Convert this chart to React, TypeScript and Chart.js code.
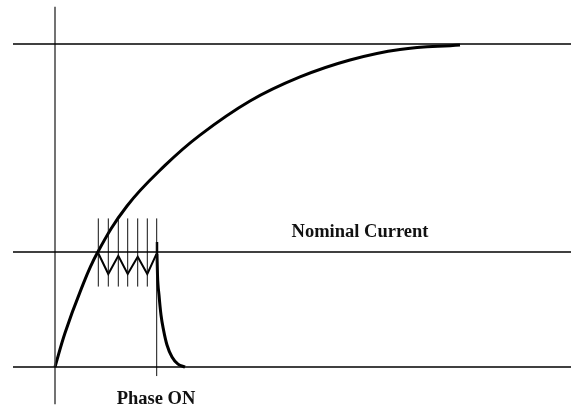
import React, { useEffect, useRef } from "react";
import { Chart, registerables } from "chart.js";

Chart.register(...registerables);

// Time (x) in arbitrary units, current (y) in % of final current
const curveT = [0, 1.0, 2.5, 4.2, 7.2, 11.0, 14.5, 19.5, 24.5, 29.5, 34.5, 40.5];
const curveI = [0, 10.53, 23.2, 35.14, 49.85, 62.4, 71.8, 82.35, 89.8, 95.05, 98.3, 99.7];

const chopT = [4.33, 5.33, 6.33, 7.27, 8.27, 9.23, 10.15];
const chopI = [35.2, 28.8, 34.4, 28.8, 34.1, 28.8, 35.0];

const stubT = [10.2, 10.2];
const stubI = [38.7, 35.0];

const decayT = [10.2, 10.25, 10.4, 10.6, 10.85, 11.2, 11.7, 12.3, 13.0];
const decayI = [35.0, 28.5, 22.3, 16.1, 11.5, 6.8, 3.1, 0.9, 0];

const gateT = [4.33, 5.33, 6.33, 7.27, 8.27, 9.23, 10.17];
const gateLow = [24.9, 24.9, 24.9, 24.9, 24.9, 24.9, -2.8];
const gateHigh = [46.0, 46.0, 46.0, 46.0, 46.0, 46.0, 46.0];

const levels = [100, 35.6, 0];
const levelStartT = -4.2;
const levelEndT = 51.6;

const axisT = 0;
const axisLow = -11.5;
const axisHigh = 111.5;

const labelTexts = ["Nominal Current", "Phase ON"];
const labelT = [30.5, 10.1];
const labelI = [41.8, -9.9];

const X_MIN = -5.5;
const X_MAX = 51.6;
const Y_MIN = -13.93;
const Y_MAX = 113.62;

const zip = (xs: number[], ys: number[]) => xs.map((x, i) => ({ x, y: ys[i] }));

export default function App() {
  const ref = useRef<HTMLCanvasElement | null>(null);

  useEffect(() => {
    if (!ref.current) return;
    const base = { pointRadius: 0, fill: false, tension: 0 };
    const datasets: any[] = [];

    levels.forEach((lv) => {
      datasets.push({
        ...base,
        data: [{ x: levelStartT, y: lv }, { x: levelEndT, y: lv }],
        borderColor: "#000",
        borderWidth: 1.5,
      });
    });
    datasets.push({
      ...base,
      data: [{ x: axisT, y: axisLow }, { x: axisT, y: axisHigh }],
      borderColor: "#444",
      borderWidth: 1.5,
    });
    gateT.forEach((t, i) => {
      datasets.push({
        ...base,
        data: [{ x: t, y: gateLow[i] }, { x: t, y: gateHigh[i] }],
        borderColor: "#111",
        borderWidth: 1,
      });
    });
    datasets.push({
      ...base,
      data: zip(curveT, curveI),
      borderColor: "#000",
      borderWidth: 3,
      tension: 0.4,
    });
    datasets.push({
      ...base,
      data: zip(chopT, chopI),
      borderColor: "#000",
      borderWidth: 2,
    });
    datasets.push({
      ...base,
      data: zip(stubT, stubI),
      borderColor: "#000",
      borderWidth: 2.5,
    });
    datasets.push({
      ...base,
      data: zip(decayT, decayI),
      borderColor: "#000",
      borderWidth: 3,
      cubicInterpolationMode: "monotone",
    });

    const labelPlugin = {
      id: "labels",
      afterDatasetsDraw(chart: any) {
        const ctx = chart.ctx;
        const xs = chart.scales.x;
        const ys = chart.scales.y;
        ctx.save();
        ctx.font = 'bold 18.5px "Liberation Serif"';
        ctx.fillStyle = "#111";
        ctx.textAlign = "center";
        ctx.textBaseline = "middle";
        labelTexts.forEach((txt, i) => {
          ctx.fillText(txt, xs.getPixelForValue(labelT[i]), ys.getPixelForValue(labelI[i]));
        });
        ctx.restore();
      },
    };

    const chart = new Chart(ref.current, {
      type: "line",
      data: { datasets },
      options: {
        animation: false,
        responsive: false,
        maintainAspectRatio: false,
        parsing: false as any,
        layout: { padding: 0 },
        clip: false as any,
        plugins: { legend: { display: false }, tooltip: { enabled: false } },
        scales: {
          x: { type: "linear", min: X_MIN, max: X_MAX, display: false },
          y: { type: "linear", min: Y_MIN, max: Y_MAX, display: false },
        },
      },
      plugins: [labelPlugin],
    });
    return () => chart.destroy();
  }, []);

  return (
    <div style={{ position: "fixed", left: 0, top: 0, width: 571, height: 412, background: "#fff" }}>
      <canvas ref={ref} width={571} height={412} style={{ width: 571, height: 412 }} />
    </div>
  );
}
